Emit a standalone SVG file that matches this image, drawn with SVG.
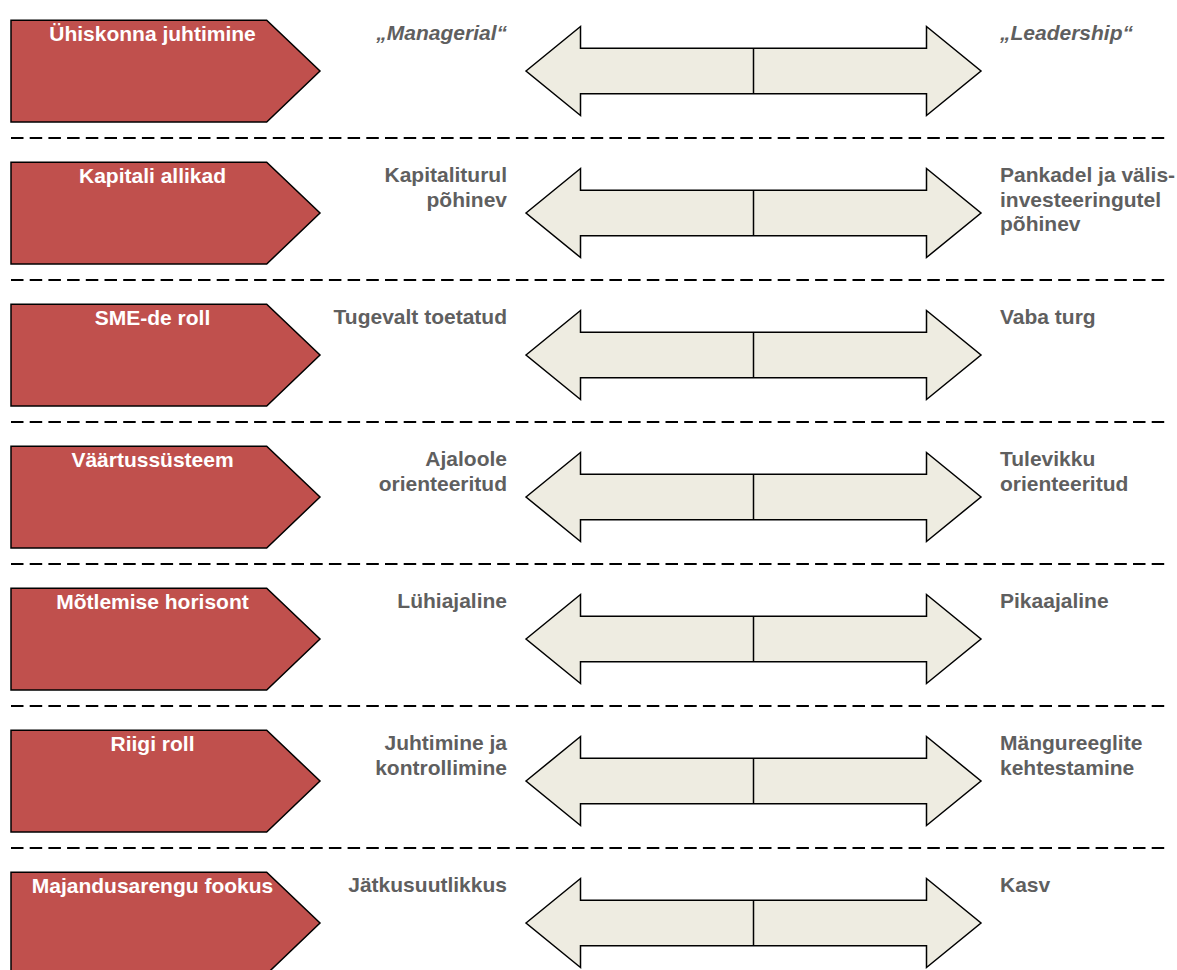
<svg xmlns="http://www.w3.org/2000/svg" width="1177" height="970" viewBox="0 0 1177 970">
<defs>
<style>
.pent{fill:#C0504D;stroke:#000;stroke-width:1.5;stroke-linejoin:miter}
.arr{fill:#EEECE1;stroke:#000;stroke-width:1.5;stroke-linejoin:miter}
.mid{stroke:#000;stroke-width:1.5}
.dash{stroke:#000;stroke-width:2;stroke-dasharray:12.5 6.2;fill:none}
.t{font-family:"Liberation Sans",Arial,sans-serif;font-weight:bold;font-size:21px}
.title{fill:#fff;text-anchor:middle}
.lt{fill:#5f5f5f;text-anchor:end}
.rt{fill:#5f5f5f;text-anchor:start}
.it{font-style:italic}
</style>
<path id="pentShape" class="pent" d="M11,20.3 L266.7,20.3 L320,71 L266.7,122 L11,122 Z"/>
<g id="arrShape">
<path class="arr" d="M526,71 L580.5,26.5 L580.5,48.3 L926.5,48.3 L926.5,26.5 L981,71 L926.5,115.5 L926.5,93.7 L580.5,93.7 L580.5,115.5 Z"/>
<line class="mid" x1="753.5" y1="48.3" x2="753.5" y2="93.7"/>
</g>
</defs>

<g id="connectors">
<line class="dash" x1="11" y1="138" x2="1170" y2="138"/>
<line class="dash" x1="11" y1="280" x2="1170" y2="280"/>
<line class="dash" x1="11" y1="422" x2="1170" y2="422"/>
<line class="dash" x1="11" y1="564" x2="1170" y2="564"/>
<line class="dash" x1="11" y1="706" x2="1170" y2="706"/>
<line class="dash" x1="11" y1="848" x2="1170" y2="848"/>
</g>

<g id="row1">
<use href="#pentShape"/>
<text class="t title" x="152.5" y="41">Ühiskonna juhtimine</text>
<use href="#arrShape"/>
<text class="t lt it" x="507" y="40">„Managerial“</text>
<text class="t rt it" x="1000" y="40">„Leadership“</text>
</g>

<g id="row2" transform="translate(0,142)">
<use href="#pentShape"/>
<text class="t title" x="152.5" y="41">Kapitali allikad</text>
<use href="#arrShape"/>
<text class="t lt" x="507" y="40">Kapitaliturul</text>
<text class="t lt" x="507" y="64.5">põhinev</text>
<text class="t rt" x="1000" y="40">Pankadel ja välis-</text>
<text class="t rt" x="1000" y="64.5">investeeringutel</text>
<text class="t rt" x="1000" y="89">põhinev</text>
</g>

<g id="row3" transform="translate(0,284)">
<use href="#pentShape"/>
<text class="t title" x="152.5" y="41">SME-de roll</text>
<use href="#arrShape"/>
<text class="t lt" x="507" y="40">Tugevalt toetatud</text>
<text class="t rt" x="1000" y="40">Vaba turg</text>
</g>

<g id="row4" transform="translate(0,426)">
<use href="#pentShape"/>
<text class="t title" x="152.5" y="41">Väärtussüsteem</text>
<use href="#arrShape"/>
<text class="t lt" x="507" y="40">Ajaloole</text>
<text class="t lt" x="507" y="64.5">orienteeritud</text>
<text class="t rt" x="1000" y="40">Tulevikku</text>
<text class="t rt" x="1000" y="64.5">orienteeritud</text>
</g>

<g id="row5" transform="translate(0,568)">
<use href="#pentShape"/>
<text class="t title" x="152.5" y="41">Mõtlemise horisont</text>
<use href="#arrShape"/>
<text class="t lt" x="507" y="40">Lühiajaline</text>
<text class="t rt" x="1000" y="40">Pikaajaline</text>
</g>

<g id="row6" transform="translate(0,710)">
<use href="#pentShape"/>
<text class="t title" x="152.5" y="41">Riigi roll</text>
<use href="#arrShape"/>
<text class="t lt" x="507" y="40">Juhtimine ja</text>
<text class="t lt" x="507" y="64.5">kontrollimine</text>
<text class="t rt" x="1000" y="40">Mängureeglite</text>
<text class="t rt" x="1000" y="64.5">kehtestamine</text>
</g>

<g id="row7" transform="translate(0,852)">
<use href="#pentShape"/>
<text class="t title" x="152.5" y="41">Majandusarengu fookus</text>
<use href="#arrShape"/>
<text class="t lt" x="507" y="40">Jätkusuutlikkus</text>
<text class="t rt" x="1000" y="40">Kasv</text>
</g>
</svg>
